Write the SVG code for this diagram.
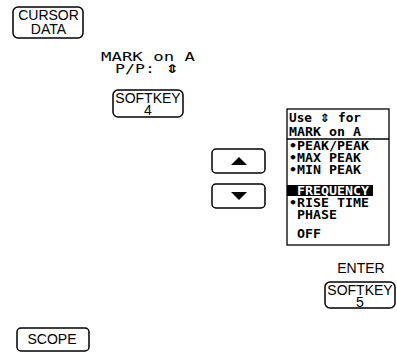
<svg xmlns="http://www.w3.org/2000/svg" width="397" height="358" viewBox="0 0 397 358">
<style>
.key{fill:#fff;stroke:#000;stroke-width:1.5}
.kt{font-family:"Liberation Sans",Arial,sans-serif;font-size:14px;fill:#000;text-anchor:middle}
.lcd{font-family:"DejaVu Sans Mono",monospace;font-size:11.5px;font-weight:bold;fill:#000}
.lbl{font-family:"DejaVu Sans Mono",monospace;font-size:12px;fill:#000}
.sym{font-family:"DejaVu Sans",sans-serif;font-weight:bold}
.inv{fill:#fff}
</style>
<rect width="397" height="358" fill="#fff"/>
<g id="cursor-data">
<rect class="key" x="13" y="7" width="70" height="31" rx="5"/>
<text class="kt" x="48.5" y="20">CURSOR</text>
<text class="kt" x="48.5" y="34">DATA</text>
</g>
<g id="mark-label">
<text class="lbl" x="101" y="61" textLength="94" lengthAdjust="spacingAndGlyphs">MARK on A</text>
<text class="lbl" x="115" y="73" textLength="64" lengthAdjust="spacingAndGlyphs">P/P: <tspan class="sym">⇕</tspan></text>
</g>
<g id="softkey4">
<rect class="key" x="113" y="90" width="70" height="27" rx="5"/>
<text class="kt" x="148" y="103">SOFTKEY</text>
<text class="kt" x="148" y="115">4</text>
</g>
<g id="up-key">
<rect class="key" x="212" y="149" width="53" height="24" rx="4"/>
<polygon points="231,165 247,165 239,157" fill="#000"/>
</g>
<g id="down-key">
<rect class="key" x="212" y="184" width="53" height="24" rx="4"/>
<polygon points="231,192 247,192 239,200" fill="#000"/>
</g>
<g id="menu">
<rect x="287" y="109" width="102" height="136" fill="#fff" stroke="#000" stroke-width="1.3"/>
<line x1="287" y1="139" x2="389" y2="139" stroke="#000" stroke-width="1.3"/>
<text class="lcd" x="289" y="122" textLength="72" lengthAdjust="spacingAndGlyphs">Use <tspan class="sym">⇕</tspan> for</text>
<text class="lcd" x="289" y="136" textLength="72" lengthAdjust="spacingAndGlyphs">MARK on A</text>
<text class="lcd" x="289" y="150" textLength="80" lengthAdjust="spacingAndGlyphs">•PEAK/PEAK</text>
<text class="lcd" x="289" y="162" textLength="72" lengthAdjust="spacingAndGlyphs">•MAX PEAK</text>
<text class="lcd" x="289" y="174" textLength="72" lengthAdjust="spacingAndGlyphs">•MIN PEAK</text>
<rect x="287" y="185" width="86" height="11" fill="#000"/>
<text class="lcd inv" x="297" y="195" textLength="72" lengthAdjust="spacingAndGlyphs">FREQUENCY</text>
<text class="lcd" x="289" y="207" textLength="80" lengthAdjust="spacingAndGlyphs">•RISE TIME</text>
<text class="lcd" x="297" y="219" textLength="40" lengthAdjust="spacingAndGlyphs">PHASE</text>
<text class="lcd" x="297" y="238" textLength="24" lengthAdjust="spacingAndGlyphs">OFF</text>
</g>
<g id="enter">
<text class="kt" x="361" y="273">ENTER</text>
<rect class="key" x="325" y="282" width="70" height="26" rx="5"/>
<text class="kt" x="360" y="295">SOFTKEY</text>
<text class="kt" x="360" y="306.5">5</text>
</g>
<g id="scope">
<rect class="key" x="17" y="328" width="72" height="23" rx="4"/>
<text class="kt" x="52" y="344">SCOPE</text>
</g>
<g id="connectors"></g>
</svg>
